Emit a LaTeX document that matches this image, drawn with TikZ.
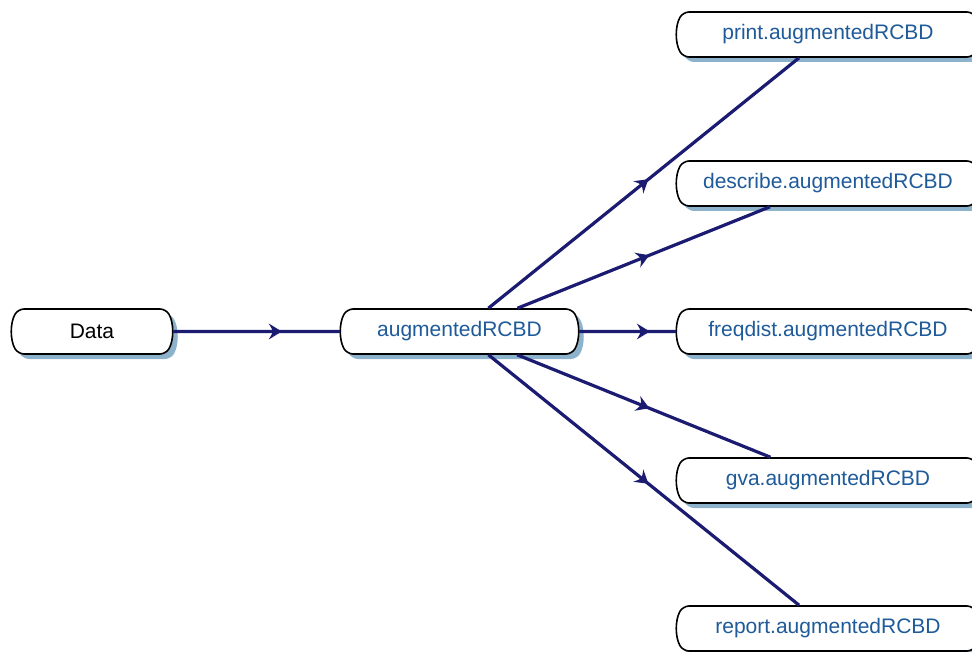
\documentclass[tikz,border=0pt]{standalone}
\usepackage{fontspec}
\setmainfont{Liberation Sans}
\usetikzlibrary{shapes.misc,shadows,decorations.markings}
\definecolor{edgec}{HTML}{1B1B72}
\definecolor{textc}{HTML}{1F5A99}
\definecolor{shadc}{HTML}{8DB3CC}
\tikzset{
  box/.style={rounded rectangle, rounded rectangle arc length=60, rounded corners=6pt,
    draw=black, line width=1.6pt,
    fill=white, minimum height=45pt, inner sep=0pt, font=\fontsize{21}{25}\selectfont,
    drop shadow={shadow xshift=5pt, shadow yshift=-5pt, fill=shadc, opacity=1, draw=none}},
  fbox/.style={box, minimum width=302pt, text=textc},
  conn/.style={draw=edgec, line width=3.2pt},
  midarrow/.style={decorate, decoration={markings, mark=at position 0.5 with
    {\fill[edgec] (6,0) -- (-7,8) .. controls (-4,3) .. (-3,0) .. controls (-4,-3) .. (-7,-8) -- cycle;}}}
}
\begin{document}
\begin{tikzpicture}[x=1pt,y=-1pt]
\clip (0,0) rectangle (972,652);
\fill[white] (0,0) rectangle (972,652);
\node[box, minimum width=160pt] (data) at (92,331.5) {Data};
\node[box, minimum width=237pt, text=textc] (aug) at (459.5,331.5) {augmentedRCBD};
\node[fbox] (print) at (828,34.5) {print.augmentedRCBD};
\node[fbox] (describe) at (828,183.5) {describe.augmentedRCBD};
\node[fbox] (freq) at (828,331.5) {freqdist.augmentedRCBD};
\node[fbox] (gva) at (828,480.5) {gva.augmentedRCBD};
\node[fbox] (report) at (828,628.5) {report.augmentedRCBD};
\foreach \a/\b in {data/aug, aug/print, aug/describe, aug/freq, aug/gva, aug/report}{
  \path[conn] (\a) -- (\b);
  \path[midarrow] (\a.center) -- (\b.center);
}
\end{tikzpicture}
\end{document}
